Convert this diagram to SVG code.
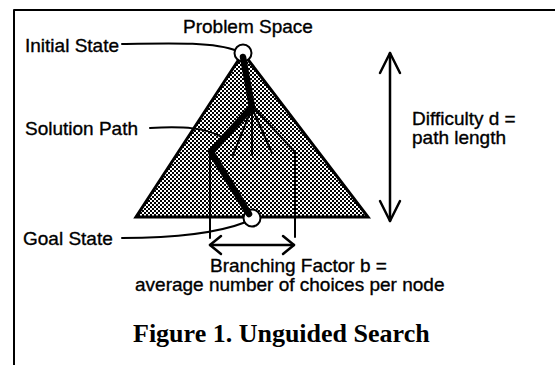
<svg xmlns="http://www.w3.org/2000/svg" width="555" height="365" viewBox="0 0 555 365">
  <style>
    .lbl { font-family: "Liberation Sans", Arial, sans-serif; font-size: 19px; fill: #000; stroke: #000; stroke-width: 0.35; }
    .cap { font-family: "Liberation Serif", "Times New Roman", serif; font-size: 26px; font-weight: bold; fill: #000; }
    .thin { fill: none; stroke: #000; stroke-width: 2; stroke-linecap: round; stroke-linejoin: round; }
    .arr { fill: none; stroke: #000; stroke-width: 2.5; stroke-linecap: round; stroke-linejoin: round; }
    .thick { fill: none; stroke: #000; stroke-width: 6.5; stroke-linecap: round; stroke-linejoin: round; }
  </style>
  <defs>
    <pattern id="stipple" patternUnits="userSpaceOnUse" width="4" height="4">
      <rect width="4" height="4" fill="#fff"/>
      <rect x="0" y="0" width="2" height="2" fill="#000"/>
      <rect x="2" y="2" width="2" height="2" fill="#000"/>
    </pattern>
  </defs>
  <rect width="555" height="365" fill="#fff"/>

  <g id="frame">
    <polyline class="thin" points="14,365 14,10 555,10"/>
  </g>

  <g id="problem-space">
    <polygon points="243,53 136,217 368,217" fill="url(#stipple)" stroke="#000" stroke-width="3" stroke-linejoin="miter"/>
    <text class="lbl" x="183" y="33">Problem Space</text>
  </g>

  <g id="connectors">
    <!-- branches -->
    <polyline class="thin" points="252,108 233,155"/>
    <polyline class="thin" points="252,108 252,155"/>
    <polyline class="thin" points="252,108 272,153"/>
    <polyline class="thin" points="254,108 295,152 295,237"/>
    <polyline class="thin" points="210,152 210,238"/>
    <!-- label pointers -->
    <path class="thin" d="M122,44 C175,43 215,42 237,51"/>
    <path class="thin" d="M150,128 C185,126 205,128 222,137"/>
    <path class="thin" d="M122,238 C170,238 215,234 246,222"/>
    <!-- difficulty arrow -->
    <line class="arr" x1="390" y1="53" x2="390" y2="221"/>
    <polyline class="arr" points="380,73 390,53 400,73"/>
    <polyline class="arr" points="380,201 390,221 400,201"/>
    <!-- branching arrow -->
    <line class="arr" x1="210" y1="245" x2="294" y2="245"/>
    <polyline class="arr" points="221,236 210,245 221,254"/>
    <polyline class="arr" points="283,236 294,245 283,254"/>
  </g>

  <g id="initial-state">
    <circle cx="243" cy="53" r="8.5" fill="#fff" stroke="#000" stroke-width="2"/>
    <text class="lbl" x="25" y="52">Initial State</text>
  </g>

  <g id="goal-state">
    <circle cx="252" cy="218" r="8.5" fill="#fff" stroke="#000" stroke-width="2"/>
    <text class="lbl" x="23" y="245">Goal State</text>
  </g>

  <g id="solution-path">
    <polyline class="thick" points="243,57 252,107 211,152 249,214"/>
    <text class="lbl" x="25" y="135">Solution Path</text>
  </g>

  <g id="difficulty">
    <text class="lbl" x="412" y="125">Difficulty d =</text>
    <text class="lbl" x="412" y="144">path length</text>
  </g>

  <g id="branching">
    <text class="lbl" x="210" y="272">Branching Factor b =</text>
    <text class="lbl" x="135" y="291">average number of choices per node</text>
  </g>

  <g id="caption">
    <text class="cap" x="133" y="342">Figure 1. Unguided Search</text>
  </g>
</svg>
